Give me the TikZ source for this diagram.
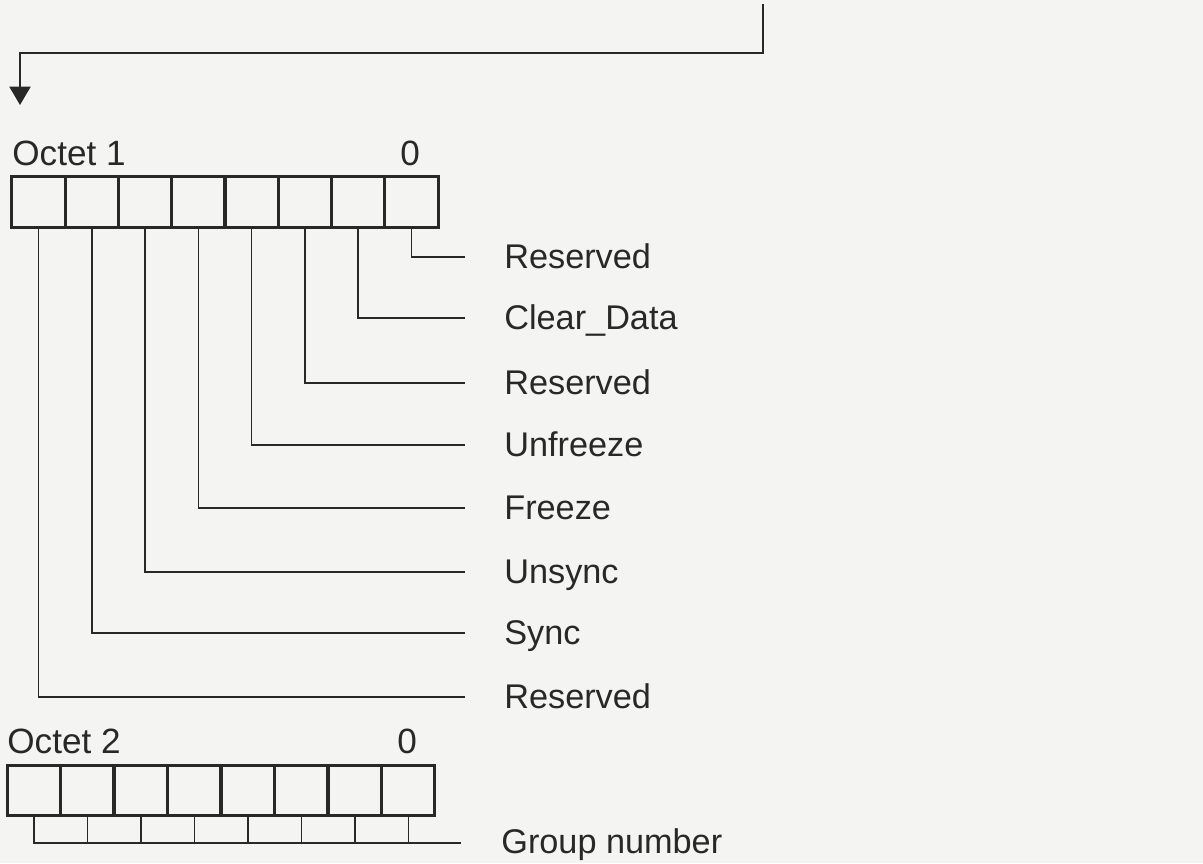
\documentclass[tikz,border=0pt]{standalone}
\usepackage{fontspec}
\setmainfont{Liberation Sans}
\usetikzlibrary{arrows.meta,positioning}
\definecolor{paper}{RGB}{244,244,242}
\definecolor{ink}{RGB}{40,40,40}

\begin{document}
\begin{tikzpicture}[x=0.02cm,y=-0.02cm,>={Triangle[length=10.5pt,width=12pt]}]
\tikzstyle{cell}=[draw=ink,line width=1.7pt,minimum width=1.066cm,minimum height=1.01cm,inner sep=0pt]
\tikzstyle{lead}=[draw=ink,line width=0.8pt]
\tikzstyle{lbl}=[text=ink,font=\fontsize{19.5}{23}\selectfont,inner sep=0pt,anchor=base west]
\tikzstyle{olbl}=[lbl,font=\fontsize{20}{24}\selectfont]
\fill[paper] (0,0) rectangle (1203,863);
\useasboundingbox (0,0) rectangle (1203,863);
% incoming telegram
\coordinate (feed) at (763,4);
\coordinate (turn) at (20,53);
\coordinate (feedin) at (20,105);
\draw[ink,line width=1.3pt,->] (feed) |- (turn) -- (feedin);
% octet 1
\node[olbl] (oct1) at (12,165) {Octet 1};
\node[olbl] (zero1) at (400,165) {0};
\node[cell] (o1b7) at (38.6,202) {};
\node[cell] (o1b6) at (91.9,202) {};
\node[cell] (o1b5) at (145.1,202) {};
\node[cell] (o1b4) at (198.4,202) {};
\node[cell] (o1b3) at (251.6,202) {};
\node[cell] (o1b2) at (304.9,202) {};
\node[cell] (o1b1) at (358.1,202) {};
\node[cell] (o1b0) at (411.4,202) {};
\coordinate (e0) at (465,257);
\coordinate (e1) at (465,318);
\coordinate (e2) at (465,383);
\coordinate (e3) at (465,445);
\coordinate (e4) at (465,508);
\coordinate (e5) at (465,572);
\coordinate (e6) at (465,633);
\coordinate (e7) at (465,697);
\draw[lead] (o1b0.south) |- (e0);
\draw[lead] (o1b1.south) |- (e1);
\draw[lead] (o1b2.south) |- (e2);
\draw[lead] (o1b3.south) |- (e3);
\draw[lead] (o1b4.south) |- (e4);
\draw[lead] (o1b5.south) |- (e5);
\draw[lead] (o1b6.south) |- (e6);
\draw[lead] (o1b7.south) |- (e7);
\node[lbl] (l0) at (504,268) {Reserved};
\node[lbl] (l1) at (504,329) {Clear\_Data};
\node[lbl] (l2) at (504,394) {Reserved};
\node[lbl] (l3) at (504,456) {Unfreeze};
\node[lbl] (l4) at (504,519) {Freeze};
\node[lbl] (l5) at (504,583) {Unsync};
\node[lbl] (l6) at (504,644) {Sync};
\node[lbl] (l7) at (504,708) {Reserved};
% octet 2
\node[olbl] (oct2) at (7,753) {Octet 2};
\node[olbl] (zero2) at (397,753) {0};
\node[cell] (o2b7) at (33.8,790.5) {};
\node[cell] (o2b6) at (87.3,790.5) {};
\node[cell] (o2b5) at (140.8,790.5) {};
\node[cell] (o2b4) at (194.3,790.5) {};
\node[cell] (o2b3) at (247.8,790.5) {};
\node[cell] (o2b2) at (301.3,790.5) {};
\node[cell] (o2b1) at (354.8,790.5) {};
\node[cell] (o2b0) at (408.3,790.5) {};
\coordinate (gend) at (461,843);
\draw[lead] (o2b7.south) |- (gend);
\draw[lead] (o2b6.south) -- (o2b6.south |- gend);
\draw[lead] (o2b5.south) -- (o2b5.south |- gend);
\draw[lead] (o2b4.south) -- (o2b4.south |- gend);
\draw[lead] (o2b3.south) -- (o2b3.south |- gend);
\draw[lead] (o2b2.south) -- (o2b2.south |- gend);
\draw[lead] (o2b1.south) -- (o2b1.south |- gend);
\draw[lead] (o2b0.south) -- (o2b0.south |- gend);
\node[lbl] (grp) at (501,853) {Group number};
\end{tikzpicture}
\end{document}
